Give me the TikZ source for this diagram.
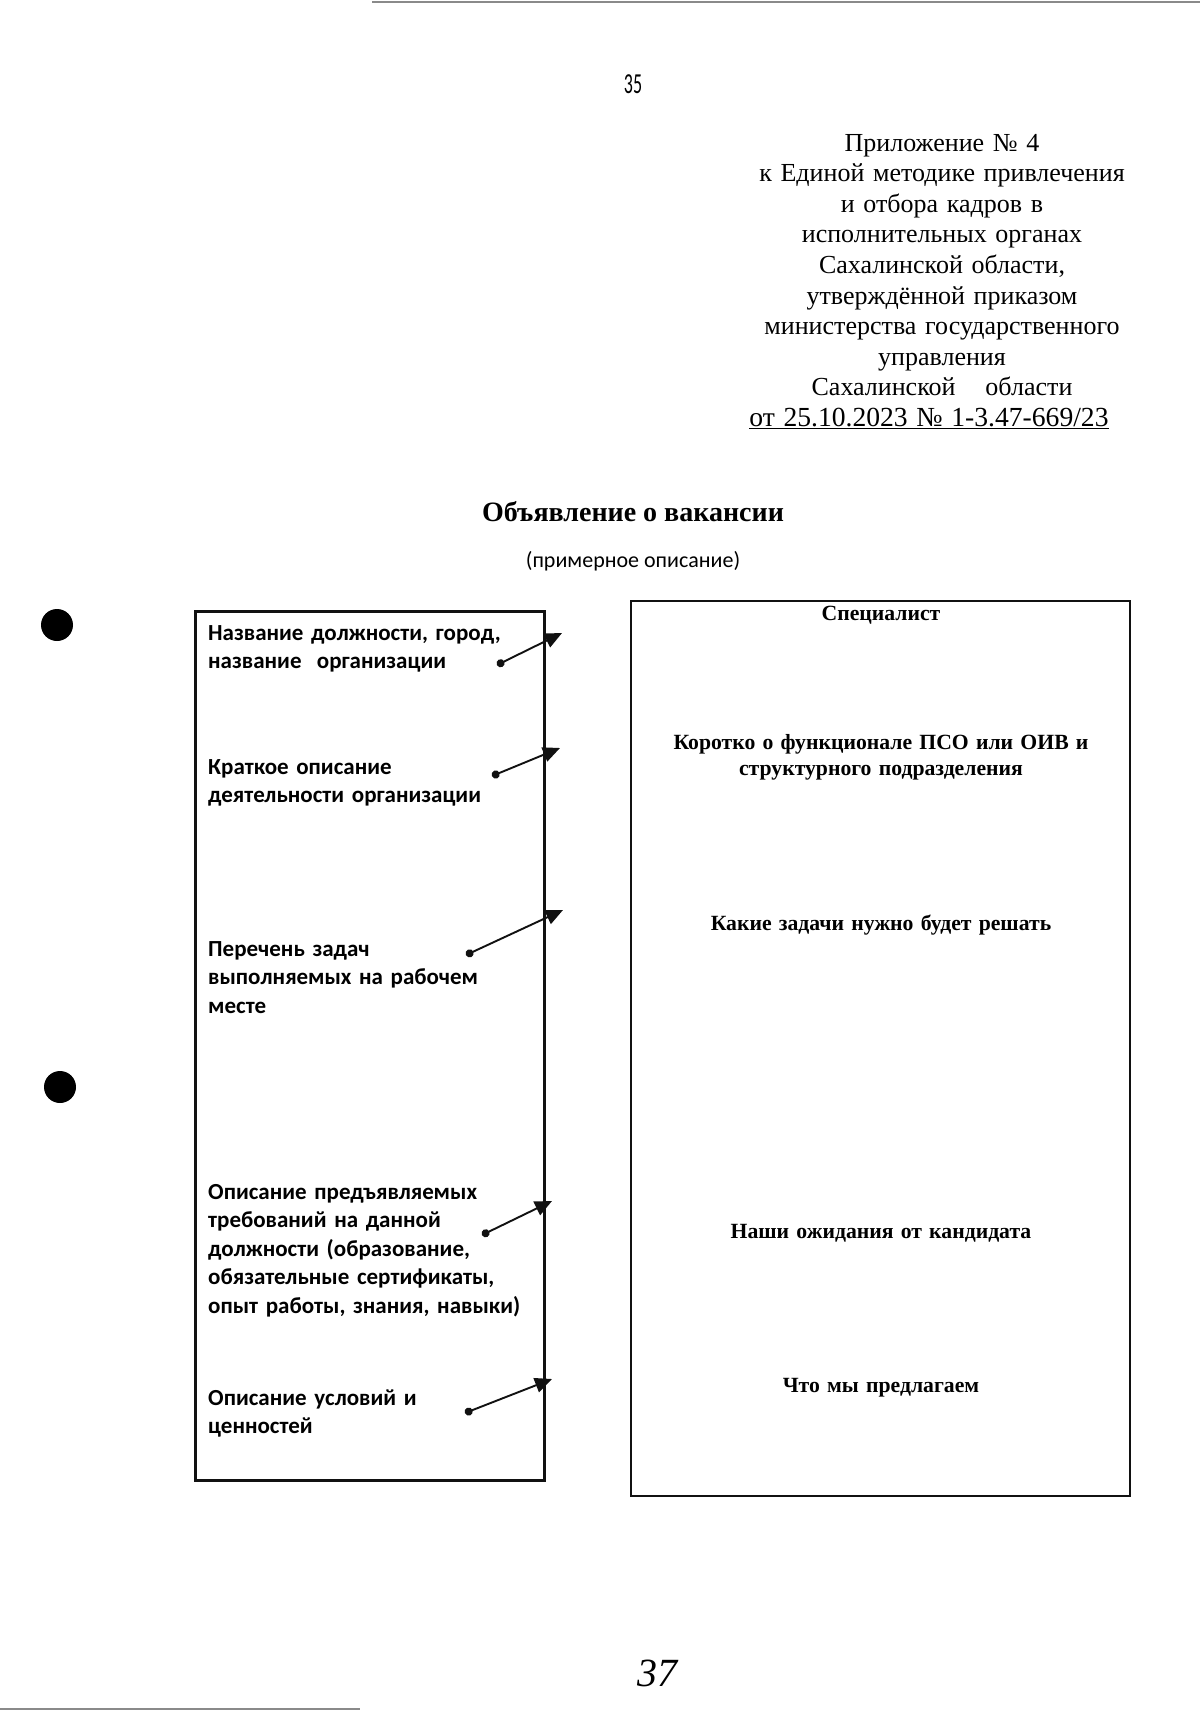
\documentclass[tikz,border=0pt]{standalone}
\usepackage{fontspec}
\setmainfont{Liberation Serif}
\newfontfamily\calibri{Carlito}
\usetikzlibrary{arrows.meta,positioning}
\definecolor{ink}{HTML}{111111}
\definecolor{scangray}{HTML}{8A8A8A}
\tikzset{
  headtext/.style={align=center, text width=460pt, inner sep=0pt,
    font=\fontsize{26}{30.6}\selectfont},
  leftlabel/.style={align=left, text width=330pt, inner sep=0pt, anchor=base west,
    font=\calibri\bfseries\fontsize{23}{28.5}\selectfont},
  rightlabel/.style={align=center, text width=480pt, inner sep=0pt, anchor=base,
    font=\bfseries\fontsize{21.7}{26}\selectfont},
  leftframe/.style={draw=ink, line width=3pt},
  rightframe/.style={draw=ink, line width=1.6pt},
  arr/.style={{Circle[length=8pt]}-{Triangle[length=17pt,width=15pt]}, line width=1.9pt, draw=ink},
  holemark/.style={circle, fill=black, minimum size=32pt, inner sep=0pt}
}
\begin{document}
\begin{tikzpicture}[x=1pt, y=-1pt]
  \useasboundingbox[fill=white] (0,0) rectangle (1200,1713);
  % scan edges and punch holes
  \draw[scangray, line width=2pt] (372,2) -- (1200,2);
  \draw[scangray, line width=2pt] (0,1709) -- (360,1709);
  \node[holemark] (hole1) at (57,625) {};
  \node[holemark] (hole2) at (60,1087) {};
  \node[inner sep=0pt, anchor=base, font=\calibri\fontsize{29}{30}\selectfont] (pagenum) at (633,93) {\scalebox{0.62}[1]{35}};

  % header
  \node[headtext, anchor=base] (appendix) at (942,151) {Приложение № 4\\
    к Единой методике привлечения\\
    и отбора кадров в\\
    исполнительных органах\\
    Сахалинской области,\\
    утверждённой приказом\\
    министерства государственного\\
    управления\\
    Сахалинской\hspace{30pt}области\\
    {\fontsize{27.6}{30.6}\selectfont\underline{от 25.10.2023 № 1-3.47-669/23}}\hspace*{26pt}\mbox{}};
  \node[inner sep=0pt, anchor=base, font=\bfseries\fontsize{28}{32}\selectfont] (title) at (633,521) {Объявление о вакансии};
  \node[inner sep=0pt, anchor=base, font=\calibri\fontsize{22}{26}\selectfont] (subtitle) at (633,567) {(примерное описание)};

  % frames
  \draw[leftframe] (195,611) rectangle (544,1480);
  \draw[rightframe] (631,601) rectangle (1130,1496);

  % left column
  \node[leftlabel] (lname) at (208,640) {Название должности, город,\\название\ \ организации};
  \node[leftlabel] (lorg) at (208,774) {Краткое описание\\деятельности организации};
  \node[leftlabel] (ltask) at (208,956) {Перечень задач\\выполняемых на рабочем\\месте};
  \node[leftlabel] (lreq) at (208,1199) {Описание предъявляемых\\требований на данной\\должности (образование,\\обязательные сертификаты,\\опыт работы, знания, навыки)};
  \node[leftlabel] (lcond) at (208,1405) {Описание условий и\\ценностей};

  % right column
  \node[rightlabel] (rspec) at (881,620) {Специалист};
  \node[rightlabel] (rfunc) at (881,749) {Коротко о функционале ПСО или ОИВ и\\структурного подразделения};
  \node[rightlabel] (rtask) at (881,930) {Какие задачи нужно будет решать};
  \node[rightlabel] (rexp) at (881,1238) {Наши ожидания от кандидата};
  \node[rightlabel] (roffer) at (881,1392) {Что мы предлагаем};

  % pointers
  \coordinate (s1) at (497,665);  \coordinate (e1) at (562,633);
  \coordinate (s2) at (492,776);  \coordinate (e2) at (560,748);
  \coordinate (s3) at (466,955);  \coordinate (e3) at (563,910);
  \coordinate (s4) at (482,1235); \coordinate (e4) at (552,1201);
  \coordinate (s5) at (465,1413); \coordinate (e5) at (552,1379);
  \foreach \i in {1,...,5} {
    \draw[arr] (s\i) -- (e\i);
  }

  % handwritten sheet number
  \node[inner sep=0pt, anchor=base, font=\itshape\fontsize{40}{44}\selectfont] (sheet) at (657,1686) {37};
\end{tikzpicture}
\end{document}
